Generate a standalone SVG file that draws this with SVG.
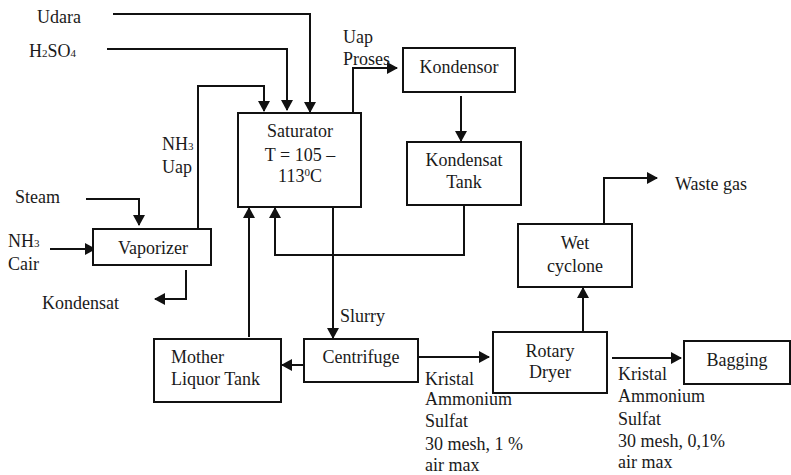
<svg xmlns="http://www.w3.org/2000/svg" width="791" height="475" viewBox="0 0 791 475">
<style>
text{font-family:'Liberation Serif','Times New Roman',serif;font-size:18px;fill:#1a1a1a}
.c{text-anchor:middle}
.box{fill:#fff;stroke:#111;stroke-width:2}
.ln{fill:none;stroke:#111;stroke-width:2}
.sub{font-size:11px}
</style>
<defs>
<marker id="ah" markerUnits="userSpaceOnUse" markerWidth="12" markerHeight="12" refX="10" refY="6" orient="auto">
<path d="M0,0 L11,6 L0,12 z" fill="#111"/>
</marker>
</defs>
<rect width="791" height="475" fill="#fff"/>
<g id="connectors">
<path class="ln" d="M113,14 H310 V112" marker-end="url(#ah)"/>
<path class="ln" d="M107,49 H287 V110" marker-end="url(#ah)"/>
<path class="ln" d="M198,230 V86 H264 V111" marker-end="url(#ah)"/>
<path class="ln" d="M353,113 V68 H397" marker-end="url(#ah)"/>
<path class="ln" d="M461,96 V141" marker-end="url(#ah)"/>
<path class="ln" d="M464,205 V255 H275 V208" marker-end="url(#ah)"/>
<path class="ln" d="M249,337 V208" marker-end="url(#ah)"/>
<path class="ln" d="M333,207 V338" marker-end="url(#ah)"/>
<path class="ln" d="M86,199 H139 V225" marker-end="url(#ah)"/>
<path class="ln" d="M50,249 H95" marker-end="url(#ah)"/>
<path class="ln" d="M186,270 V299 H155" marker-end="url(#ah)"/>
<path class="ln" d="M304,365 H282" marker-end="url(#ah)"/>
<path class="ln" d="M418,357 H489" marker-end="url(#ah)"/>
<path class="ln" d="M583,332 V288" marker-end="url(#ah)"/>
<path class="ln" d="M604,224 V178 H657" marker-end="url(#ah)"/>
<path class="ln" d="M612,358 H681" marker-end="url(#ah)"/>
</g>
<g id="labels">
<text x="37" y="23">Udara</text>
<text x="29" y="57">H<tspan class="sub">2</tspan>SO<tspan class="sub">4</tspan></text>
<text x="343" y="43">Uap</text>
<text x="343" y="65">Proses</text>
<text x="162" y="150">NH<tspan class="sub">3</tspan></text>
<text x="162" y="173">Uap</text>
<text x="15" y="203">Steam</text>
<text x="8" y="247">NH<tspan class="sub">3</tspan></text>
<text x="8" y="270">Cair</text>
<text x="42" y="309">Kondensat</text>
<text x="340" y="322">Slurry</text>
<text x="675" y="190">Waste gas</text>
<text x="425" y="385">Kristal</text>
<text x="425" y="405">Ammonium</text>
<text x="425" y="427">Sulfat</text>
<text x="425" y="450">30 mesh, 1 %</text>
<text x="425" y="471">air max</text>
<text x="618" y="380">Kristal</text>
<text x="618" y="402">Ammonium</text>
<text x="618" y="425">Sulfat</text>
<text x="618" y="447">30 mesh, 0,1%</text>
<text x="618" y="468">air max</text>
</g>
<g id="saturator">
<rect class="box" x="238" y="113" width="123" height="94"/>
<text class="c" x="300" y="137">Saturator</text>
<text class="c" x="300" y="161">T = 105 –</text>
<text class="c" x="300" y="182">113<tspan class="sub" dy="-6">0</tspan><tspan dy="6">C</tspan></text>
</g>
<g id="kondensor">
<rect class="box" x="403" y="48" width="112" height="44"/>
<text class="c" x="459" y="73">Kondensor</text>
</g>
<g id="kondensat-tank">
<rect class="box" x="407" y="142" width="114" height="63"/>
<text class="c" x="464" y="166">Kondensat</text>
<text class="c" x="464" y="188">Tank</text>
</g>
<g id="vaporizer">
<rect class="box" x="93" y="229" width="118" height="36"/>
<text class="c" x="153" y="254">Vaporizer</text>
</g>
<g id="mother-liquor-tank">
<rect class="box" x="154" y="339" width="127" height="63"/>
<text x="171" y="363">Mother</text>
<text x="171" y="385">Liquor Tank</text>
</g>
<g id="centrifuge">
<rect class="box" x="304" y="339" width="114" height="43"/>
<text class="c" x="361" y="363">Centrifuge</text>
</g>
<g id="rotary-dryer">
<rect class="box" x="493" y="332" width="114" height="61"/>
<text class="c" x="550" y="357">Rotary</text>
<text class="c" x="550" y="378">Dryer</text>
</g>
<g id="wet-cyclone">
<rect class="box" x="518" y="224" width="114" height="63"/>
<text class="c" x="575" y="249">Wet</text>
<text class="c" x="575" y="272">cyclone</text>
</g>
<g id="bagging">
<rect class="box" x="684" y="341" width="106" height="43"/>
<text class="c" x="737" y="366">Bagging</text>
</g>
</svg>
